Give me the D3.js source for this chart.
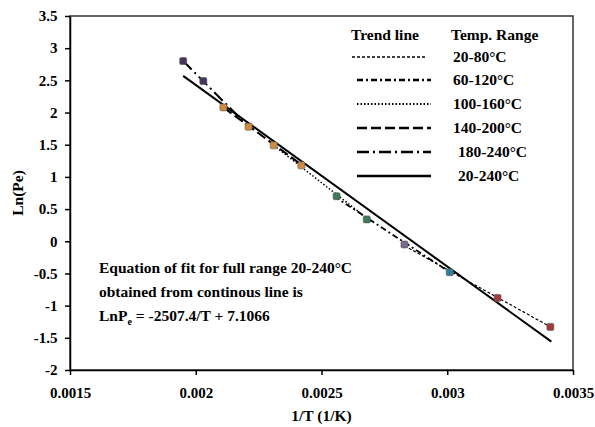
<!DOCTYPE html>
<html lang="en">
  <head>
    <meta charset="utf-8">
    <script src="https://d3js.org/d3.v7.min.js"></script>
    <style>
    body { margin: 0; background: #fff; }
    </style>
    <title>Ln(Pe) vs 1/T</title>
  </head>
  <body>
    <script>
// data points (1/T, Ln(Pe)) with marker colours
var invT = [0.00341, 0.00320, 0.00301, 0.00283, 0.00268, 0.00256, 0.00242, 0.00231, 0.00221, 0.00211, 0.00203, 0.00195];
var lnPe = [-1.33, -0.88, -0.48, -0.05, 0.34, 0.70, 1.18, 1.49, 1.78, 2.08, 2.49, 2.80];
var markerColors = ['#a23b3b', '#a23b3b', '#2f7f95', '#7a6a8c', '#3f7a5c', '#3f7a5c',
                    '#d08a3c', '#d08a3c', '#d08a3c', '#d08a3c', '#45355f', '#45355f'];

// trend lines: label, dash, start / end
var trendLabels = ['20-80°C', '60-120°C', '100-160°C', '140-200°C', '180-240°C', '20-240°C'];
var trendDash = ['3,2', '6,3,2,3', '1.5,2', '10,4', '12,4,2,4', null];
var trendWidth = [1.2, 1.8, 1.5, 2, 2, 2];
var trendX1 = [0.00283, 0.00255, 0.00231, 0.00211, 0.00195, 0.00195];
var trendY1 = [-0.07, 0.70, 1.49, 2.08, 2.80, 2.57];
var trendX2 = [0.00341, 0.00301, 0.00270, 0.00243, 0.00221, 0.003414];
var trendY2 = [-1.33, -0.48, 0.30, 1.16, 1.78, -1.56];

var xTicks = [0.0015, 0.002, 0.0025, 0.003, 0.0035];
var yTicks = [-2, -1.5, -1, -0.5, 0, 0.5, 1, 1.5, 2, 2.5, 3, 3.5];

var W = 595, H = 427;
var m = {left: 70, top: 16, right: 22, bottom: 57};
var FONT = '"Liberation Serif", "Times New Roman", "DejaVu Serif", serif';

var svg = d3.select('body').append('svg')
            .attr('width', W).attr('height', H)
            .style('font-family', FONT).style('font-weight', 'bold');

var x = d3.scaleLinear().domain([0.0015, 0.0035]).range([m.left, W - m.right]);
var y = d3.scaleLinear().domain([-2, 3.5]).range([H - m.bottom, m.top]);

var fmt = function(d) { return String(d); };

function styleText(sel, size) {
  return sel.style('font-family', FONT).style('font-weight', 'bold')
            .style('font-size', size + 'px').attr('fill', '#000');
}

// frame (top & right)
svg.append('rect')
   .attr('x', x(0.0015)).attr('y', y(3.5))
   .attr('width', x(0.0035) - x(0.0015)).attr('height', y(-2) - y(3.5))
   .attr('fill', 'none').attr('stroke', '#333').attr('stroke-width', 1.5);

var gx = svg.append('g')
   .attr('transform', 'translate(0,' + y(-2) + ')')
   .call(d3.axisBottom(x).tickValues(xTicks).tickFormat(fmt).tickSize(5).tickSizeOuter(0));
styleText(gx.selectAll('text'), 15).attr('dy', '1.3em');

var gy = svg.append('g')
   .attr('transform', 'translate(' + x(0.0015) + ',0)')
   .call(d3.axisLeft(y).tickValues(yTicks).tickFormat(fmt).tickSize(5).tickSizeOuter(0));
styleText(gy.selectAll('text'), 15).attr('dx', '-0.3em');

svg.selectAll('.domain, .tick line').attr('stroke', '#000').attr('stroke-width', 1.5);

// trend lines
var trends = trendLabels.map(function(l, i) { return i; });
svg.append('g').selectAll('line')
   .data(trends).enter().append('line')
   .attr('x1', function(i) { return x(trendX1[i]); })
   .attr('y1', function(i) { return y(trendY1[i]); })
   .attr('x2', function(i) { return x(trendX2[i]); })
   .attr('y2', function(i) { return y(trendY2[i]); })
   .attr('stroke', '#000')
   .attr('stroke-width', function(i) { return trendWidth[i]; })
   .attr('stroke-dasharray', function(i) { return trendDash[i]; });

// markers
svg.append('g').selectAll('rect')
   .data(invT).enter().append('rect')
   .attr('x', function(d) { return x(d) - 3.5; })
   .attr('y', function(d, i) { return y(lnPe[i]) - 3.5; })
   .attr('width', 7).attr('height', 7).attr('rx', 1.5)
   .attr('fill', function(d, i) { return markerColors[i]; })
   .attr('stroke', '#555').attr('stroke-width', 0.6);

// legend
var leg = svg.append('g');
styleText(leg.append('text').attr('x', 351).attr('y', 40).text('Trend line'), 15.5);
styleText(leg.append('text').attr('x', 451).attr('y', 40).text('Temp. Range'), 15.5);
var legY = [57, 80, 104, 128, 152, 176];
trends.forEach(function(i) {
  leg.append('line')
     .attr('x1', i === 0 ? 352 : 357).attr('x2', i === 0 ? 427 : 431)
     .attr('y1', legY[i]).attr('y2', legY[i])
     .attr('stroke', '#000').attr('stroke-width', trendWidth[i] + 0.5)
     .attr('stroke-dasharray', trendDash[i]);
  styleText(leg.append('text').attr('x', i >= 4 ? 458 : 453).attr('y', legY[i] + 5)
     .text(trendLabels[i]), 15.5);
});

// equation note
var note = svg.append('g');
styleText(note.append('text').attr('x', 99).attr('y', 273).text('Equation of fit for full range 20-240°C'), 15.5);
styleText(note.append('text').attr('x', 99).attr('y', 297).text('obtained from continous line is'), 15.5);
var eq = styleText(note.append('text').attr('x', 99).attr('y', 321), 15.5);
eq.append('tspan').text('LnP');
eq.append('tspan').attr('dy', 4).style('font-size', '10px').text('e');
eq.append('tspan').attr('dy', -4).text(' = -2507.4/T + 7.1066');

// axis titles
styleText(svg.append('text').attr('x', (x(0.0015) + x(0.0035)) / 2).attr('y', 421)
   .attr('text-anchor', 'middle').text('1/T (1/K)'), 15.5);
styleText(svg.append('text').attr('transform', 'translate(23,' + y(0.75) + ') rotate(-90)')
   .attr('text-anchor', 'middle').text('Ln(Pe)'), 15.5);
    </script>
  </body>
</html>
